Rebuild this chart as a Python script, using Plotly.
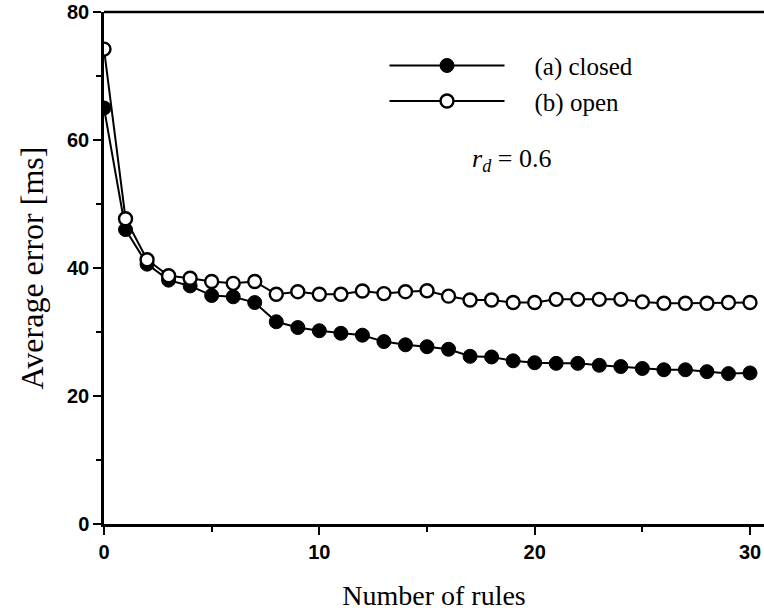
import plotly.graph_objects as go

rules = list(range(0, 31))
closed = [65.0, 46.0, 40.6, 38.1, 37.2, 35.7, 35.5, 34.6, 31.6, 30.7, 30.2, 29.8, 29.5,
          28.5, 28.0, 27.7, 27.3, 26.2, 26.1, 25.5, 25.2, 25.1, 25.1, 24.8, 24.6, 24.3,
          24.1, 24.1, 23.8, 23.5, 23.6]
opened = [74.2, 47.7, 41.3, 38.8, 38.4, 37.9, 37.6, 37.9, 35.9, 36.3, 35.9, 35.9, 36.4,
          36.0, 36.3, 36.45, 35.6, 35.0, 35.0, 34.6, 34.6, 35.1, 35.1, 35.1, 35.1, 34.7,
          34.5, 34.5, 34.5, 34.6, 34.6]
x_ticks = [0, 10, 20, 30]
y_ticks = [0, 20, 40, 60, 80]

serif = "Liberation Serif, Times New Roman, serif"
sans = "Liberation Sans, Arial, sans-serif"
gap = "&nbsp;" * 4

fig = go.Figure()
fig.add_trace(go.Scatter(
    x=rules, y=closed, mode="lines+markers", name=gap + "(a) closed",
    line=dict(color="black", width=2),
    marker=dict(symbol="circle", size=14, color="black", line=dict(color="black", width=1)),
))
fig.add_trace(go.Scatter(
    x=rules, y=opened, mode="lines+markers", name=gap + "(b) open",
    line=dict(color="black", width=2),
    marker=dict(symbol="circle", size=13, color="white", line=dict(color="black", width=2.4)),
))

fig.update_layout(
    width=764, height=614,
    margin=dict(l=104, r=0, t=12, b=90),
    paper_bgcolor="white", plot_bgcolor="white",
    showlegend=True,
    legend=dict(
        x=0.425, y=0.94, xanchor="left", yanchor="top",
        font=dict(family=serif, size=25, color="black"),
        itemwidth=115, tracegroupgap=0,
        bgcolor="rgba(0,0,0,0)",
    ),
    annotations=[dict(
        x=0.617, y=0.746, xref="paper", yref="paper", showarrow=False,
        text="<i>r<sub>d</sub></i> = 0.6",
        font=dict(family=serif, size=26, color="black"),
    )],
    shapes=[dict(
        type="line", xref="paper", yref="paper", x0=0, x1=1, y0=1, y1=1,
        line=dict(color="black", width=2.5),
    )],
)
fig.update_xaxes(
    range=[0, 30.65], tickvals=x_ticks, ticktext=[str(v) for v in x_ticks],
    showgrid=False, zeroline=False,
    showline=True, linecolor="black", linewidth=2.5,
    ticks="outside", ticklen=8, tickwidth=2, tickcolor="black",
    minor=dict(dtick=5, tick0=0, ticks="outside", ticklen=5, tickwidth=2, tickcolor="black"),
    tickfont=dict(family=sans, size=20, color="black", weight="bold"),
    ticklabeloverflow="allow",
    title=dict(text="Number of rules", font=dict(family=serif, size=28, color="black"), standoff=24),
)
fig.update_yaxes(
    range=[0, 80], tickvals=y_ticks, ticktext=[str(v) for v in y_ticks],
    showgrid=False, zeroline=False,
    showline=True, linecolor="black", linewidth=2.5,
    ticks="outside", ticklen=8, tickwidth=2, tickcolor="black",
    minor=dict(dtick=10, tick0=0, ticks="outside", ticklen=5, tickwidth=2, tickcolor="black"),
    tickfont=dict(family=sans, size=20, color="black", weight="bold"),
    ticklabeloverflow="allow",
    title=dict(text="Average error [ms]", font=dict(family=serif, size=32, color="black"), standoff=14),
)

fig.write_html(
    "out.html",
    config={"displayModeBar": False},
    post_script="document.body.style.margin='0';document.body.style.overflow='hidden';",
)
